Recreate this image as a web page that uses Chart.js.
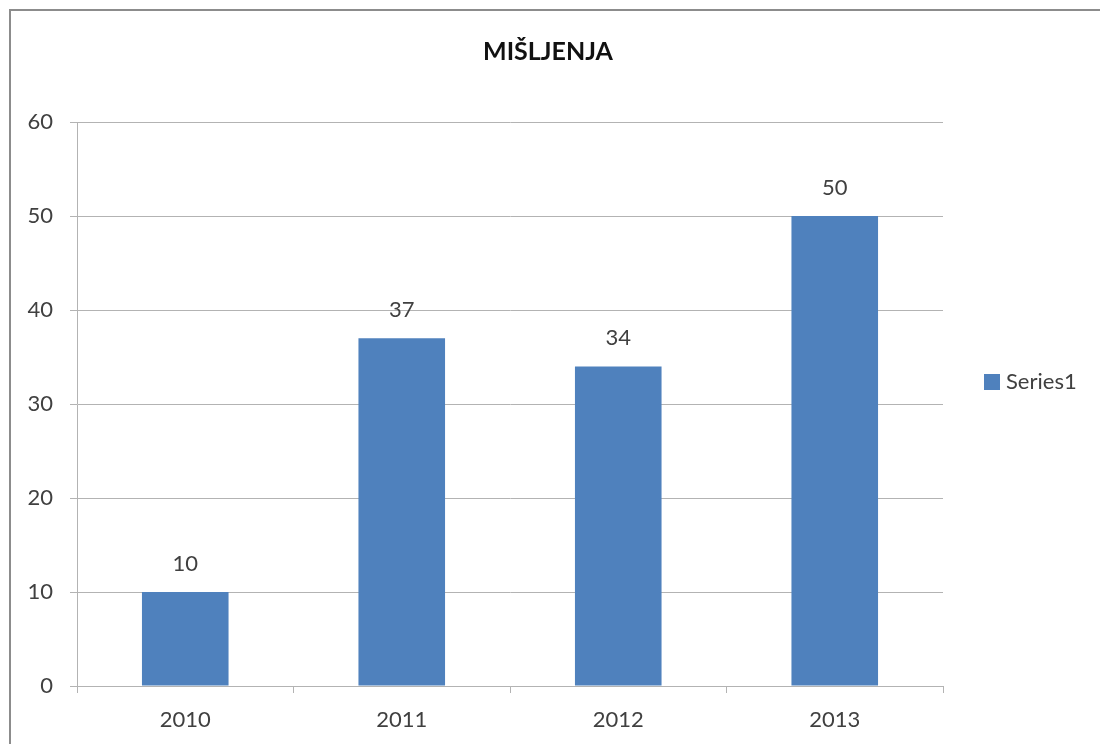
<!DOCTYPE html>
<html>
<head>
<meta charset="utf-8">
<script src="https://cdn.jsdelivr.net/npm/chart.js@4"></script>
<style>
  html, body { margin: 0; padding: 0; background: #fff; overflow: hidden; }
  #wrap { width: 1100px; height: 744px; }
  canvas { display: block; }
</style>
</head>
<body>
<div id="wrap"><canvas id="barChart" width="1100" height="744"></canvas></div>
<script>
const years = ['2010', '2011', '2012', '2013'];
const series1 = [10, 37, 34, 50];
const yTicks = [0, 10, 20, 30, 40, 50, 60];
const chartTitle = 'MIŠLJENJA';

const FONT = 'Lato, "Open Sans", sans-serif';
const gridGray = '#b3b3b3';
const barBlue = '#4f81bd';

// frame, title, value labels above bars and the legend on the right
const extrasPlugin = {
  id: 'extras',
  beforeDraw(chart) {
    const { ctx } = chart;
    ctx.save();
    ctx.fillStyle = '#fff';
    ctx.fillRect(0, 0, chart.width, chart.height);
    ctx.strokeStyle = '#8c8c8c';
    ctx.lineWidth = 2;
    ctx.beginPath();
    ctx.moveTo(10, chart.height);
    ctx.lineTo(10, 10);
    ctx.lineTo(chart.width, 10);
    ctx.stroke();

    ctx.font = 'bold 25px ' + FONT;
    ctx.fillStyle = '#111';
    ctx.textAlign = 'center';
    ctx.textBaseline = 'middle';
    ctx.fillText(chartTitle, chart.width / 2 - 2, 52);
    ctx.restore();
  },
  afterDatasetsDraw(chart) {
    const { ctx, chartArea } = chart;
    const meta = chart.getDatasetMeta(0);
    ctx.save();
    ctx.font = '22px ' + FONT;
    ctx.fillStyle = '#404040';
    ctx.textAlign = 'center';
    ctx.textBaseline = 'middle';
    meta.data.forEach((bar, i) => {
      ctx.fillText(String(series1[i]), bar.x, bar.y - 28);
    });

    // legend
    const ds = chart.data.datasets[0];
    const lx = chartArea.right + 41;
    const ly = chart.height / 2 + 10;
    ctx.fillStyle = ds.backgroundColor;
    ctx.fillRect(lx, ly - 8, 16, 16);
    ctx.fillStyle = '#404040';
    ctx.textAlign = 'left';
    ctx.fillText(ds.label, lx + 22, ly);
    ctx.restore();
  }
};

new Chart(document.getElementById('barChart').getContext('2d'), {
  type: 'bar',
  data: {
    labels: years,
    datasets: [{
      label: 'Series1',
      data: series1,
      backgroundColor: barBlue,
      borderWidth: 0,
      barPercentage: 0.4,
      categoryPercentage: 1.0
    }]
  },
  options: {
    responsive: false,
    animation: false,
    layout: { padding: { left: 10, right: 157, top: 122, bottom: 0 } },
    plugins: {
      title: { display: false },
      legend: { display: false },
      tooltip: { enabled: false }
    },
    scales: {
      x: {
        grid: {
          display: true,
          drawOnChartArea: false,
          offset: true,
          tickLength: 7,
          color: gridGray
        },
        border: { color: gridGray, width: 1 },
        ticks: {
          color: '#404040',
          font: { family: FONT, size: 22 },
          padding: 14
        },
        afterFit(scale) { scale.height = 58; }
      },
      y: {
        min: 0,
        max: 60,
        afterBuildTicks(scale) {
          scale.ticks = yTicks.map(v => ({ value: v }));
        },
        grid: {
          color: gridGray,
          tickLength: 7
        },
        border: { color: gridGray, width: 1 },
        ticks: {
          color: '#404040',
          font: { family: FONT, size: 22 },
          padding: 17
        },
        afterFit(scale) { scale.width = 67; }
      }
    }
  },
  plugins: [extrasPlugin]
});
</script>
</body>
</html>
